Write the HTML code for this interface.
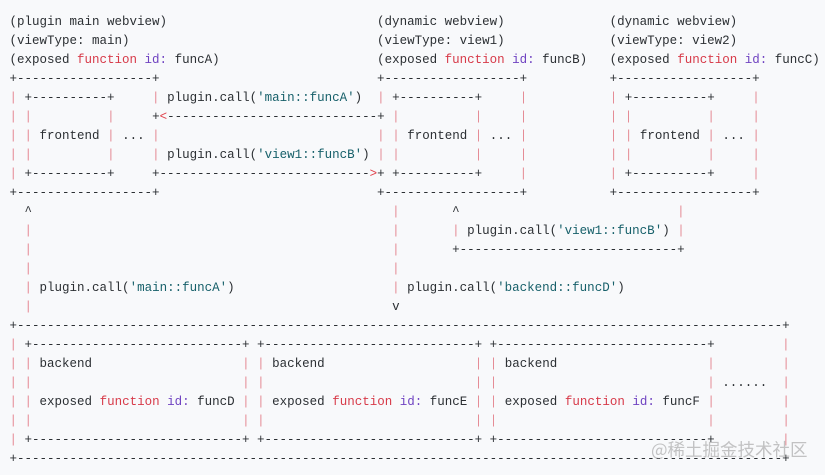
<!DOCTYPE html>
<html><head><meta charset="utf-8"><style>
html,body{margin:0;padding:0;background:#f8f9fb;width:825px;height:475px;overflow:hidden;}
pre{position:absolute;left:9.5px;top:12.5px;margin:0;font-family:"Liberation Mono",monospace;font-size:12.5px;line-height:19px;color:#2b2f33;}
.p{color:#e58c96}.k{color:#d73a49}.i{color:#6f42c1}.s{color:#17606a}.r{color:#e0404a}
.wm{position:absolute;left:651px;top:437px;font-family:"Noto Sans CJK SC",sans-serif;font-size:17.5px;color:rgba(140,140,140,0.5);white-space:nowrap;}
</style></head><body>
<pre id="d">(plugin main webview)                            (dynamic webview)              (dynamic webview)
(viewType: main)                                 (viewType: view1)              (viewType: view2)
(exposed <span class="k">function</span> <span class="i">id:</span> funcA)                     (exposed <span class="k">function</span> <span class="i">id:</span> funcB)   (exposed <span class="k">function</span> <span class="i">id:</span> funcC)
+------------------+                             +------------------+           +------------------+
| +----------+     | plugin.call(<span class="s">'main::funcA'</span>)  | +----------+     |           | +----------+     |
| |          |     +<span class="r">&lt;</span>----------------------------+ |          |     |           | |          |     |
| | frontend | ... |                             | | frontend | ... |           | | frontend | ... |
| |          |     | plugin.call(<span class="s">'view1::funcB'</span>) | |          |     |           | |          |     |
| +----------+     +----------------------------<span class="r">&gt;</span>+ +----------+     |           | +----------+     |
+------------------+                             +------------------+           +------------------+
  ^                                                |       ^                             |
  |                                                |       | plugin.call(<span class="s">'view1::funcB'</span>) |
  |                                                |       +-----------------------------+
  |                                                |
  | plugin.call(<span class="s">'main::funcA'</span>)                     | plugin.call(<span class="s">'backend::funcD'</span>)
  |                                                v
+------------------------------------------------------------------------------------------------------+
| +----------------------------+ +----------------------------+ +----------------------------+         |
| | backend                    | | backend                    | | backend                    |         |
| |                            | |                            | |                            | ......  |
| | exposed <span class="k">function</span> <span class="i">id:</span> funcD | | exposed <span class="k">function</span> <span class="i">id:</span> funcE | | exposed <span class="k">function</span> <span class="i">id:</span> funcF |         |
| |                            | |                            | |                            |         |
| +----------------------------+ +----------------------------+ +----------------------------+         |
+------------------------------------------------------------------------------------------------------+</pre>
<div class="wm">@稀土掘金技术社区</div>
<script>
var d=document.getElementById('d');d.innerHTML=d.innerHTML.replace(/\|/g,'<span class="p">|</span>');
</script>
</body></html>
